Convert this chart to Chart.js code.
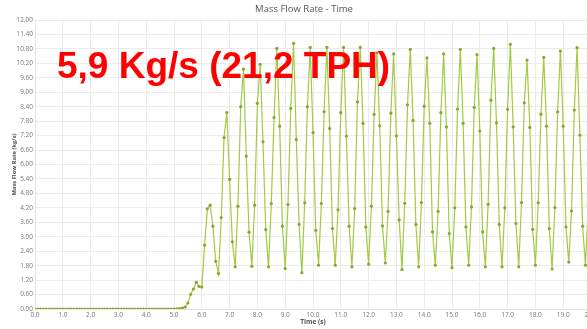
<!DOCTYPE html>
<html><head><meta charset="utf-8">
<script src="https://cdn.jsdelivr.net/npm/chart.js@4"></script>
<style>
html,body{margin:0;padding:0;background:#fff;overflow:hidden;}
#wrap{position:relative;width:587px;height:329px;overflow:hidden;}
#box{position:absolute;left:0;top:0;width:608px;height:329px;}
#note{position:absolute;left:57px;top:47px;font:bold 37px "Liberation Sans",Arial,sans-serif;line-height:37px;color:#ff0000;white-space:nowrap;}
</style></head><body>
<div id="wrap"><div id="box"><canvas id="c" width="608" height="329"></canvas></div><div id="note">5,9 Kg/s (21,2 TPH)</div></div>
<script>
const chartTitle = 'Mass Flow Rate - Time';
const xTitle = 'Time (s)';
const yTitle = 'Mass Flow Rate (kg/s)';
const sampleStep = 0.1; // seconds between samples
const massFlow = [
 0,0,0,0,0,0,0,0,0,0,
 0,0,0,0,0,0,0,0,0,0,
 0,0,0,0,0,0,0,0,0,0,
 0,0,0,0,0,0,0,0,0,0,
 0,0,0,0,0,0,0,0,0,0,
 0,0.01,0.02,0.04,0.08,0.25,0.61,0.83,1.11,0.94,
 0.91,2.65,4.16,4.31,3.44,1.98,1.47,3.80,7.12,8.16,
 5.38,2.79,1.75,4.27,8.40,9.96,6.35,3.19,1.77,4.31,
 8.54,10.16,6.94,3.30,1.75,4.38,7.95,10.82,7.59,3.44,
 1.68,4.34,8.33,11.03,7.04,3.51,1.51,4.41,8.40,10.86,
 7.32,3.27,1.82,4.38,8.19,10.86,7.50,3.34,1.82,4.12,
 8.15,10.86,7.18,3.44,1.75,4.17,8.60,10.86,7.71,3.40,
 1.86,4.27,8.08,10.64,7.61,3.45,1.91,4.05,8.13,10.59,
 7.19,3.70,1.64,4.39,8.48,10.78,7.83,3.51,1.75,4.42,
 8.42,10.43,7.71,3.20,1.82,4.05,8.15,10.59,7.56,3.13,
 1.72,4.20,8.30,10.78,7.71,3.41,1.82,4.24,8.37,10.56,
 7.39,3.20,1.75,4.35,8.67,10.82,7.73,3.51,1.75,4.20,
 8.29,10.99,7.56,3.55,1.75,4.42,8.56,10.34,7.54,3.31,
 1.82,4.41,8.09,10.45,7.59,3.34,1.66,4.21,8.19,10.71,
 7.59,3.41,1.95,4.07,8.26,10.85,7.22,3.44,1.82,4.30
];
const xMin = 0, xMax = 20, xStep = 1;
const yMin = 0, yMax = 12, yStep = 0.6;

const points = massFlow.map((v, i) => ({x: +(i * sampleStep).toFixed(1), y: v}));
const tickFont = {family: 'Open Sans', size: 6.5};
new Chart(document.getElementById('c'), {
  type: 'line',
  data: {datasets: [{
    data: points,
    borderColor: '#a6c844',
    borderWidth: 1.2,
    pointRadius: 1.6,
    pointBorderWidth: 0,
    pointBackgroundColor: '#87a82b',
    tension: 0,
    fill: false
  }]},
  options: {
    responsive: false,
    animation: false,
    layout: {padding: 0},
    plugins: {
      legend: {display: false},
      tooltip: {enabled: false},
      title: {display: true, text: chartTitle, color: '#555', font: {family: 'Open Sans', size: 9.5, weight: 'normal'}, padding: {top: 4, bottom: 4.6}}
    },
    scales: {
      x: {
        type: 'linear', min: xMin, max: xMax,
        ticks: {stepSize: xStep, callback: v => Number(v).toFixed(1), color: '#777', font: tickFont, padding: 2, maxRotation: 0, autoSkip: false},
        grid: {color: '#ebebeb', drawTicks: false},
        border: {color: '#e4e4e4'},
        title: {display: true, text: xTitle, color: '#555', font: {family: 'Open Sans', size: 6.5, weight: 'bold'}, padding: {top: 0, bottom: 3}},
        afterFit(s) { s.height = 20; s.paddingLeft = 0; s.paddingRight = 17; }
      },
      y: {
        min: yMin, max: yMax,
        ticks: {stepSize: yStep, callback: v => Number(v).toFixed(2), color: '#777', font: tickFont, padding: 2, autoSkip: false},
        grid: {color: '#ebebeb', drawTicks: false},
        border: {color: '#e4e4e4'},
        title: {display: true, text: yTitle, color: '#555', font: {family: 'Open Sans', size: 5.8, weight: 'bold'}, padding: {top: 11, bottom: 0}},
        afterFit(s) { s.width = 35; }
      }
    }
  }
});
</script>
</body></html>
